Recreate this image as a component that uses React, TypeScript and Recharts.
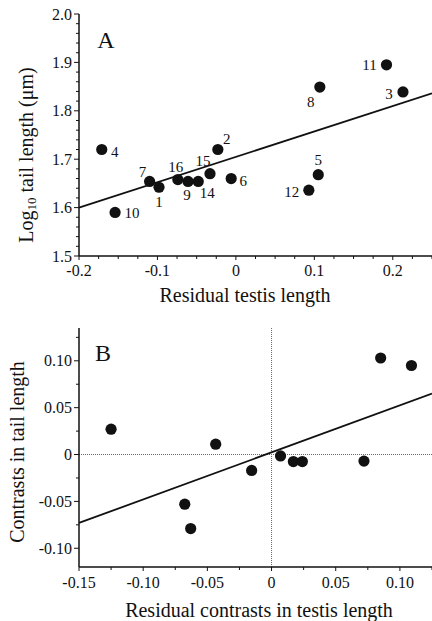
import React from 'react';
import { ScatterChart, Scatter, XAxis, YAxis, ReferenceLine } from 'recharts';

// ---------- Panel A data ----------
const speciesIdsA = [1, 2, 3, 4, 5, 6, 7, 8, 9, 10, 11, 12, 14, 15, 16];
const residualTestisA = [-0.098, -0.023, 0.213, -0.171, 0.105, -0.006, -0.110, 0.107, -0.061, -0.154, 0.192, 0.093, -0.048, -0.033, -0.074];
const log10TailA = [1.642, 1.72, 1.839, 1.72, 1.668, 1.66, 1.654, 1.849, 1.654, 1.59, 1.895, 1.636, 1.654, 1.67, 1.658];
const regressionA = [
  { x: -0.2, y: 1.6 },
  { x: 0.25, y: 1.836 },
];
const xTicksA = [-0.2, -0.1, 0, 0.1, 0.2];
const yTicksA = [1.5, 1.6, 1.7, 1.8, 1.9, 2.0];

// ---------- Panel B data ----------
const residualContrastsB = [-0.125, -0.0676, -0.063, -0.0435, -0.0155, 0.007, 0.017, 0.024, 0.072, 0.085, 0.109];
const tailContrastsB = [0.027, -0.053, -0.079, 0.011, -0.017, -0.0015, -0.0075, -0.0075, -0.007, 0.103, 0.095];
const regressionB = [
  { x: -0.15, y: -0.073 },
  { x: 0.125, y: 0.065 },
];
const xTicksB = [-0.15, -0.1, -0.05, 0, 0.05, 0.1];
const yTicksB = [-0.1, -0.05, 0, 0.05, 0.1];

// label placement (offset of label centre from point centre, px)
const labelOffsetA: Record<number, [number, number]> = {
  1: [0, 15], 2: [9, -11], 3: [-14, 2], 4: [13, 2], 5: [0, -15], 6: [12, 2], 7: [-7, -9],
  8: [-9, 15], 9: [-1, 14], 10: [17, 1], 11: [-17, 0], 12: [-17, 2], 14: [9, 12], 15: [-7, -13], 16: [-2, -13],
};

const FONT = "'Liberation Serif', 'DejaVu Serif', serif";
const INK = '#111';
const textStyle = { fontFamily: FONT };

const dataA = speciesIdsA.map((id, i) => ({ id, x: residualTestisA[i], y: log10TailA[i] }));
const dataB = residualContrastsB.map((x, i) => ({ x, y: tailContrastsB[i] }));

function withMinor(major: number[], step: number, lo: number, hi: number) {
  const out: number[] = [];
  const n = Math.round((hi - lo) / step);
  for (let i = 0; i <= n; i++) out.push(+(lo + i * step).toFixed(4));
  major.forEach((m) => { if (!out.some((v) => Math.abs(v - m) < 1e-6)) out.push(m); });
  return out.sort((a, b) => a - b);
}

const isIn = (arr: number[], v: number) => arr.some((m) => Math.abs(m - v) < 1e-6);

const makeXTick = (major: number[], fmt: (v: number) => string, gap: number) => (props: any) => {
  const { x, y, payload } = props;
  const v = payload.value as number;
  const isMajor = isIn(major, v);
  return (
    <g>
      <line x1={x} x2={x} y1={y} y2={y + (isMajor ? 4 : 3)} stroke={INK} strokeWidth={1} />
      {isMajor && (
        <text x={x} y={y + gap} textAnchor="middle" dominantBaseline="central" fontSize={16} style={textStyle} fill={INK}>
          {fmt(v)}
        </text>
      )}
    </g>
  );
};

const makeYTick = (major: number[], fmt: (v: number) => string) => (props: any) => {
  const { x, y, payload } = props;
  const v = payload.value as number;
  const isMajor = isIn(major, v);
  return (
    <g>
      <line x1={x} x2={x - (isMajor ? 5 : 3)} y1={y} y2={y} stroke={INK} strokeWidth={1} />
      {isMajor && (
        <text x={x - 7} y={y} textAnchor="end" dominantBaseline="central" fontSize={16} style={textStyle} fill={INK}>
          {fmt(v)}
        </text>
      )}
    </g>
  );
};

const fmtA = (v: number) => (Math.abs(v) < 1e-9 ? '0' : v.toFixed(1));
const fmtB = (v: number) => (Math.abs(v) < 1e-9 ? '0' : v.toFixed(2));

const DotA = (props: any) => {
  const { cx, cy, payload } = props;
  const off = labelOffsetA[payload.id] || [12, 0];
  return (
    <g>
      <circle cx={cx} cy={cy} r={5.6} fill={INK} />
      <text x={cx + off[0]} y={cy + off[1]} textAnchor="middle" dominantBaseline="central" fontSize={15} style={textStyle} fill={INK}>
        {payload.id}
      </text>
    </g>
  );
};

const DotB = (props: any) => {
  const { cx, cy } = props;
  return <circle cx={cx} cy={cy} r={5.6} fill={INK} />;
};

export default function App() {
  const allXA = withMinor(xTicksA, 0.025, -0.2, 0.25);
  const allYA = withMinor(yTicksA, 0.02, 1.5, 2.0);
  const allXB = withMinor(xTicksB, 0.025, -0.15, 0.125);
  const allYB = withMinor(yTicksB, 0.025, -0.1, 0.125);
  const axisLine = { stroke: INK, strokeWidth: 1.5 };

  return (
    <div style={{ position: 'absolute', left: 0, top: 0, width: 432, height: 621, background: '#fff', overflow: 'hidden' }}>
      <div style={{ position: 'absolute', left: 0, top: 0 }}>
        <ScatterChart width={432} height={305} margin={{ top: 14, right: 0, bottom: 0, left: 0 }}>
          <XAxis
            type="number"
            dataKey="x"
            domain={[-0.2, 0.25]}
            ticks={allXA}
            interval={0}
            allowDataOverflow
            height={49}
            tickSize={0}
            tickMargin={0}
            axisLine={axisLine}
            tick={makeXTick(xTicksA, fmtA, 14)}
          />
          <YAxis
            type="number"
            dataKey="y"
            domain={[1.5, 2.0]}
            ticks={allYA}
            interval={0}
            allowDataOverflow
            width={79}
            tickSize={0}
            tickMargin={0}
            axisLine={axisLine}
            tick={makeYTick(yTicksA, fmtA)}
          />
          <ReferenceLine segment={regressionA} stroke={INK} strokeWidth={1.8} ifOverflow="visible" />
          <Scatter data={dataA} shape={DotA} isAnimationActive={false} />
        </ScatterChart>
      </div>
      <div style={{ position: 'absolute', left: 0, top: 305 }}>
        <ScatterChart width={432} height={316} margin={{ top: 23, right: 0, bottom: 0, left: 0 }}>
          <XAxis
            type="number"
            dataKey="x"
            domain={[-0.15, 0.125]}
            ticks={allXB}
            interval={0}
            allowDataOverflow
            height={54}
            tickSize={0}
            tickMargin={0}
            axisLine={axisLine}
            tick={makeXTick(xTicksB, fmtB, 15)}
          />
          <YAxis
            type="number"
            dataKey="y"
            domain={[-0.12, 0.135]}
            ticks={allYB}
            interval={0}
            allowDataOverflow
            width={79}
            tickSize={0}
            tickMargin={0}
            axisLine={axisLine}
            tick={makeYTick(yTicksB, fmtB)}
          />
          <ReferenceLine x={0} stroke="#666" strokeWidth={1} strokeDasharray="1 1" />
          <ReferenceLine y={0} stroke="#666" strokeWidth={1} strokeDasharray="1 1" />
          <ReferenceLine segment={regressionB} stroke={INK} strokeWidth={1.8} ifOverflow="visible" />
          <Scatter data={dataB} shape={DotB} isAnimationActive={false} />
        </ScatterChart>
      </div>
      <svg width={432} height={621} style={{ position: 'absolute', left: 0, top: 0, pointerEvents: 'none', fontFamily: FONT }}>
        <g fill={INK}>
          <text x={106} y={48} textAnchor="middle" fontSize={24}>A</text>
          <text x={103} y={361} textAnchor="middle" fontSize={24}>B</text>
          <text x={245} y={295} textAnchor="middle" dominantBaseline="central" fontSize={20}>Residual testis length</text>
          <text x={259} y={610} textAnchor="middle" dominantBaseline="central" fontSize={20}>Residual contrasts in testis length</text>
          <text transform="translate(26,155) rotate(-90)" textAnchor="middle" dominantBaseline="central" fontSize={20}>
            Log<tspan fontSize={13} dy={5}>10</tspan><tspan dy={-5}> tail length (μm)</tspan>
          </text>
          <text transform="translate(17,452) rotate(-90)" textAnchor="middle" dominantBaseline="central" fontSize={20}>
            Contrasts in tail length
          </text>
        </g>
      </svg>
    </div>
  );
}
